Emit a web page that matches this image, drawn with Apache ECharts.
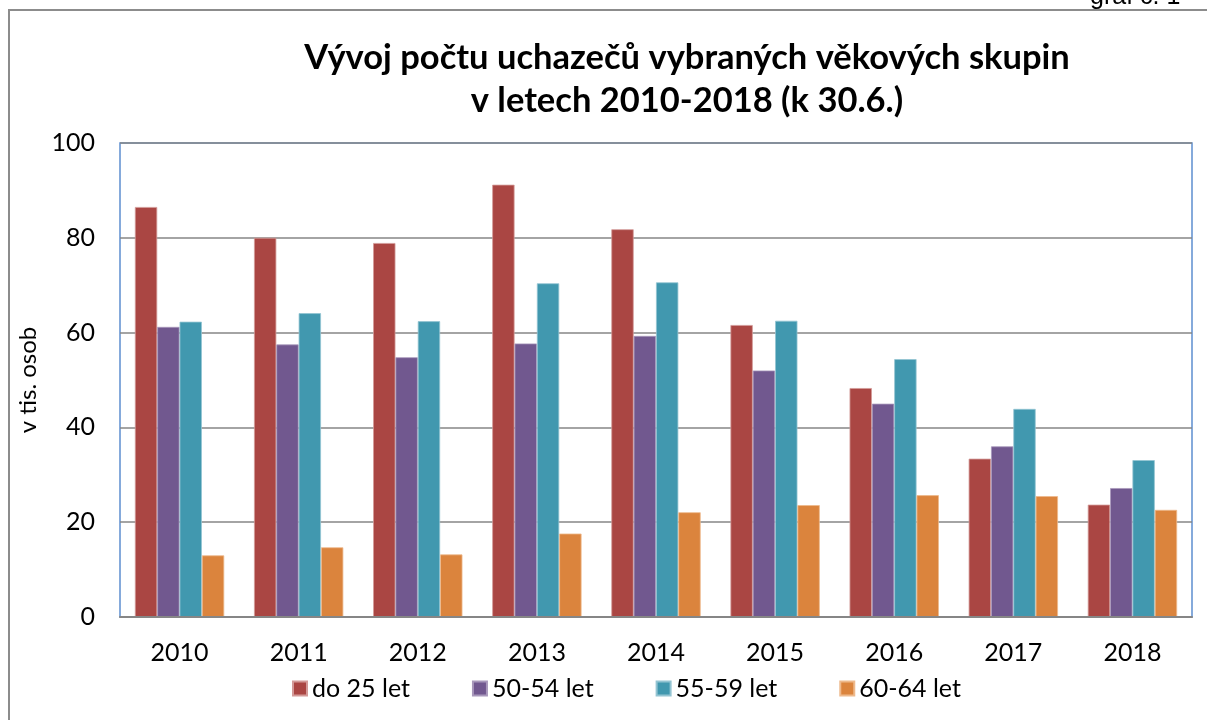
<!DOCTYPE html>
<html>
<head>
<meta charset="utf-8">
<script src="https://cdn.jsdelivr.net/npm/echarts@6/dist/echarts.min.js"></script>
<style>
html,body{margin:0;padding:0;background:#fff;}
#chart{width:1207px;height:720px;}
</style>
</head>
<body>
<div id="chart"></div>
<script>
const categories = ['2010','2011','2012','2013','2014','2015','2016','2017','2018'];
const seriesNames = ['do 25 let','50-54 let','55-59 let','60-64 let'];
const do25 = [86.5, 80.0, 78.9, 91.2, 81.8, 61.6, 48.3, 33.4, 23.7];
const age5054 = [61.2, 57.5, 54.8, 57.7, 59.3, 52.0, 45.0, 36.0, 27.2];
const age5559 = [62.3, 64.1, 62.4, 70.4, 70.6, 62.5, 54.4, 43.9, 33.1];
const age6064 = [13.0, 14.7, 13.2, 17.6, 22.1, 23.6, 25.7, 25.5, 22.6];
const yTicks = [0, 20, 40, 60, 80, 100];
const titleLines = ['Vývoj počtu uchazečů vybraných věkových skupin', 'v letech 2010-2018 (k 30.6.)'];
const yAxisName = 'v tis. osob';
const cornerLabel = 'graf č. 1';

const colors = ['#AA4643', '#71588F', '#4198AF', '#DB843D'];
const borders = ['#D39A98', '#A898BB', '#93C4D2', '#EEB98C'];
const FONT = 'Lato, "Noto Sans", sans-serif';

const chart = echarts.init(document.getElementById('chart'), null, {renderer: 'canvas'});
const dataSets = [do25, age5054, age5559, age6064];

chart.setOption({
  animation: false,
  backgroundColor: '#ffffff',
  color: colors,
  title: {
    text: titleLines.join('\n'),
    left: 682,
    textAlign: 'center',
    top: 31,
    textStyle: {fontFamily: FONT, fontSize: 34.5, fontWeight: 'bold', color: '#000', lineHeight: 43}
  },
  legend: {
    top: 671,
    left: 287,
    itemWidth: 14,
    itemHeight: 14,
    itemGap: 62,
    icon: 'rect',
    textStyle: {fontFamily: FONT, fontSize: 25, color: '#000'},
    data: seriesNames
  },
  grid: {
    left: 120, right: 15, top: 143, bottom: 103,
    show: true, borderColor: '#5E8FD0', borderWidth: 1.5, backgroundColor: 'transparent'
  },
  xAxis: {
    type: 'category',
    data: categories,
    axisLine: {show: true, lineStyle: {color: '#868686', width: 2}},
    axisTick: {show: false},
    axisLabel: {fontFamily: FONT, fontSize: 25, color: '#000', margin: 23},
    z: 10
  },
  yAxis: {
    type: 'value',
    min: yTicks[0], max: yTicks[yTicks.length - 1], interval: 20,
    name: yAxisName,
    nameLocation: 'middle',
    nameGap: 70,
    nameRotate: 90,
    nameTextStyle: {fontFamily: FONT, fontSize: 24, color: '#000'},
    axisLine: {show: false},
    axisTick: {show: false},
    axisLabel: {fontFamily: FONT, fontSize: 25, color: '#000', margin: 25},
    splitLine: {lineStyle: {color: '#868686', width: 1.5}}
  },
  series: seriesNames.map((name, i) => ({
    name: name,
    type: 'bar',
    data: dataSets[i],
    barGap: '0%',
    barCategoryGap: '25%',
    itemStyle: {color: colors[i], borderColor: borders[i], borderWidth: 0.8}
  })),
  graphic: [
    {type: 'rect', shape: {x: 9, y: 10, width: 1300, height: 800}, style: {fill: 'none', stroke: '#8C8C8C', lineWidth: 2}, silent: true, z: 100},
    {type: 'text', left: 1090, top: -15, style: {text: cornerLabel, font: '25px "Liberation Sans", Arial, sans-serif', fill: '#000'}, z: 100}
  ]
});
</script>
</body>
</html>
